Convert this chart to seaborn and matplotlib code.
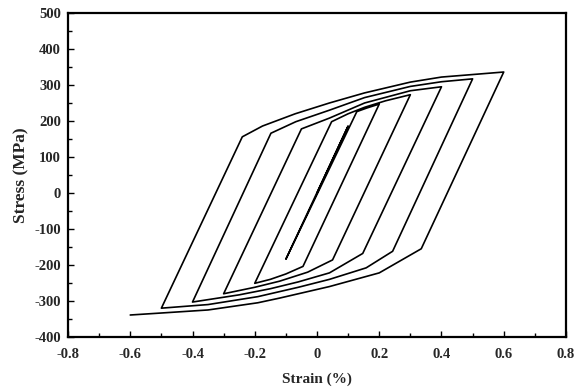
import matplotlib
matplotlib.use("Agg")
import matplotlib.pyplot as plt
from matplotlib.ticker import MultipleLocator
import seaborn as sns
import pandas as pd

# Branches of the incremental-step hysteresis path (strain %, stress MPa)
init_strain = [0.0, 0.1, -0.1]
init_stress = [0.0, 186, -184]

u2_strain = [0.128, 0.16, 0.2]
u2_stress = [226, 236, 247]
d2_strain = [-0.045, -0.1, -0.15, -0.2]
d2_stress = [-204, -225, -240, -251]

u3_strain = [0.047, 0.1, 0.153, 0.22, 0.3]
u3_stress = [198, 220, 238, 256, 273]
d3_strain = [0.05, -0.03, -0.12, -0.2, -0.3]
d3_stress = [-186, -220, -245, -262, -280]

u4_strain = [-0.05, 0.04, 0.153, 0.3, 0.4]
u4_stress = [178, 208, 250, 284, 295]
d4_strain = [0.147, 0.04, -0.06, -0.15, -0.25, -0.4]
d4_stress = [-168, -222, -247, -266, -283, -303]

u5_strain = [-0.148, -0.068, 0.04, 0.153, 0.3, 0.4, 0.5]
u5_stress = [166, 198, 230, 265, 296, 309, 317]
d5_strain = [0.243, 0.158, 0.04, -0.06, -0.19, -0.35, -0.5]
d5_stress = [-162, -208, -240, -262, -288, -310, -320]

u6_strain = [-0.24, -0.175, -0.07, 0.04, 0.153, 0.3, 0.4, 0.5, 0.6]
u6_stress = [156, 186, 220, 250, 278, 308, 322, 329, 336]
d6_strain = [0.335, 0.2, 0.04, -0.12, -0.19, -0.35, -0.51, -0.6]
d6_stress = [-155, -222, -260, -292, -305, -325, -334, -339]

strain = (init_strain + u2_strain + d2_strain + u3_strain + d3_strain
          + u4_strain + d4_strain + u5_strain + d5_strain + u6_strain + d6_strain)
stress = (init_stress + u2_stress + d2_stress + u3_stress + d3_stress
          + u4_stress + d4_stress + u5_stress + d5_stress + u6_stress + d6_stress)

df = pd.DataFrame({"strain": strain, "stress": stress})

sns.set_style("white")
plt.rcParams['font.family'] = ['Liberation Serif', 'DejaVu Serif']
plt.rcParams['font.weight'] = 'bold'
plt.rcParams['axes.unicode_minus'] = False

fig = plt.figure(figsize=(5.74, 3.90), dpi=100)
ax = fig.add_axes([0.1185, 0.136, 0.8675, 0.8307])

sns.lineplot(data=df, x="strain", y="stress", sort=False, estimator=None,
             color="black", linewidth=1.2, ax=ax)

ax.set_xlim(-0.8, 0.8)
ax.set_ylim(-400, 500)
ax.xaxis.set_major_locator(MultipleLocator(0.2))
ax.xaxis.set_minor_locator(MultipleLocator(0.1))
ax.yaxis.set_major_locator(MultipleLocator(100))
ax.yaxis.set_minor_locator(MultipleLocator(50))
ax.set_xticks(ax.get_xticks())
ax.set_xticklabels([("%g" % round(t, 1)) for t in ax.get_xticks()])
ax.set_xlim(-0.8, 0.8)
ax.tick_params(axis='both', which='both', direction='in', bottom=True, left=True,
               top=False, right=False, labelsize=10.5, color='black', width=1.0)
ax.tick_params(which='major', length=4)
ax.tick_params(which='minor', length=3)
ax.tick_params(axis='x', pad=8)
ax.tick_params(axis='y', pad=5)
for lab in ax.get_xticklabels() + ax.get_yticklabels():
    lab.set_fontweight('bold')
for s in ax.spines.values():
    s.set_color('black')
    s.set_linewidth(1.6)

ax.set_xlabel("Strain (%)", fontsize=11, fontweight='bold', labelpad=8)
ax.set_ylabel("Stress (MPa)", fontsize=12.5, fontweight='bold', labelpad=4)

fig.savefig("out.png", dpi=100)
